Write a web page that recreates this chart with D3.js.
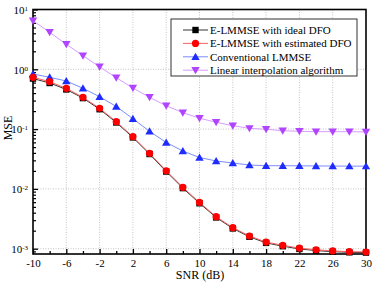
<!DOCTYPE html>
<html><head><meta charset="utf-8">
<script src="https://cdn.jsdelivr.net/npm/d3@7"></script>
<style>body{margin:0;background:#fff}svg{display:block}text{font-family:"Liberation Serif","Times New Roman",serif}</style>
</head><body>
<script>
const snr = [-10,-8,-6,-4,-2,0,2,4,6,8,10,12,14,16,18,20,22,24,26,28,30];
const idealDFO = [0.70,0.59,0.46,0.33,0.215,0.129,0.0725,0.0383,0.0195,0.0103,0.00575,0.00333,0.00218,0.00158,0.00125,0.00110,0.00099,0.00093,0.00089,0.00087,0.00086];
const estDFO = [0.735,0.62,0.48,0.34,0.223,0.133,0.0747,0.0394,0.0201,0.01063,0.00593,0.00343,0.00225,0.00163,0.00129,0.00114,0.00102,0.00096,0.000916,0.000891,0.000881];
const convLMMSE = [0.834,0.735,0.637,0.481,0.348,0.239,0.149,0.0919,0.0597,0.0430,0.0335,0.0293,0.0271,0.0251,0.0244,0.0244,0.0243,0.0242,0.0241,0.0240,0.0240];
const linInterp = [6.50,4.16,2.62,1.69,1.10,0.724,0.487,0.340,0.246,0.188,0.152,0.130,0.114,0.103,0.0993,0.094,0.0919,0.0906,0.0906,0.0906,0.0895];
const xTicks = [-10,-6,-2,2,6,10,14,18,22,26,30];
const yTicks = [1e-3,1e-2,1e-1,1,10];
const yTickLabels = ["-3","-2","-1","0","1"];
const seriesNames = ["E-LMMSE with ideal DFO","E-LMMSE with estimated DFO","Conventional LMMSE","Linear interpolation algorithm"];

const W=374,H=283;
const L=33,R=366,T=9.5,B=254;
const svg=d3.select("body").append("svg").attr("width",W).attr("height",H);
const x=d3.scaleLinear().domain([-10,30]).range([L,R]);
const y=d3.scaleLog().domain([0.000815,10]).range([B,T]);

// grid
const g=svg.append("g");
xTicks.slice(1,-1).forEach(t=>g.append("line").attr("x1",x(t)).attr("x2",x(t)).attr("y1",T).attr("y2",B)
  .attr("stroke","#c4c4c4").attr("stroke-width",1).attr("stroke-dasharray","1,1.5"));
yTicks.forEach(t=>g.append("line").attr("x1",L).attr("x2",R).attr("y1",y(t)).attr("y2",y(t))
  .attr("stroke","#c4c4c4").attr("stroke-width",1).attr("stroke-dasharray","1,1.5"));

// axes
const xAxis=d3.axisBottom(x).tickValues(xTicks).tickSizeInner(-5).tickSizeOuter(0).tickFormat(d=>d);
const xa=svg.append("g").attr("transform",`translate(0,${B})`).call(xAxis);
xa.select(".domain").remove();
xa.selectAll(".tick line").attr("stroke","#000").attr("stroke-width",1.3);
xa.selectAll(".tick text").attr("y",5).attr("font-size",11).attr("fill","#000").attr("font-family","Liberation Serif");
// minor x
const xMinor=d3.range(-8,30,4);
svg.append("g").attr("transform",`translate(0,${B})`).call(d3.axisBottom(x).tickValues(xMinor).tickSizeInner(-3).tickSizeOuter(0).tickFormat(""))
  .call(s=>{s.select(".domain").remove();s.selectAll("line").attr("stroke","#000").attr("stroke-width",1.3);});

const yAxis=d3.axisLeft(y).tickValues(yTicks).tickSizeInner(-5).tickSizeOuter(0).tickFormat("");
const ya=svg.append("g").attr("transform",`translate(${L},0)`).call(yAxis);
ya.select(".domain").remove();
ya.selectAll(".tick line").attr("stroke","#000").attr("stroke-width",1.3);
ya.selectAll(".tick").each(function(d,i){
  const t=d3.select(this).append("text").attr("x",-5).attr("dy","0.35em").attr("text-anchor","end").attr("fill","#000").attr("font-size",11).attr("font-family","Liberation Serif");
  t.append("tspan").text("10");
  t.append("tspan").attr("dy","-0.45em").attr("font-size",7).text(yTickLabels[i]);
});
const yMinor=[];
[-4,-3,-2,-1,0].forEach(e=>{for(let k=2;k<=9;k++){const v=k*Math.pow(10,e);if(v>=y.domain()[0]&&v<=10)yMinor.push(v);}});
svg.append("g").attr("transform",`translate(${L},0)`).call(d3.axisLeft(y).tickValues(yMinor).tickSizeInner(-3).tickSizeOuter(0).tickFormat(""))
  .call(s=>{s.select(".domain").remove();s.selectAll("line").attr("stroke","#000").attr("stroke-width",1.2);});

// frame
svg.append("rect").attr("x",L).attr("y",T).attr("width",R-L).attr("height",B-T).attr("fill","none").attr("stroke","#000").attr("stroke-width",1.6);

// series
const styles=[
  {data:idealDFO,line:"#333333",mk:"#000000",shape:"square"},
  {data:estDFO,line:"#ff6060",mk:"#ff0000",shape:"circle"},
  {data:convLMMSE,line:"#7a8cff",mk:"#1f2cff",shape:"tri"},
  {data:linInterp,line:"#d79cff",mk:"#b044ff",shape:"itri"}];
function marker(sel,shape,cx,cy,color){
  if(shape==="square") sel.append("rect").attr("x",cx-3.2).attr("y",cy-3.2).attr("width",6.4).attr("height",6.4).attr("fill",color);
  else if(shape==="circle") sel.append("circle").attr("cx",cx).attr("cy",cy).attr("r",3.6).attr("fill",color);
  else if(shape==="tri") sel.append("path").attr("d",`M${cx},${cy-4}L${cx+4.2},${cy+3.2}L${cx-4.2},${cy+3.2}Z`).attr("fill",color);
  else sel.append("path").attr("d",`M${cx},${cy+4}L${cx+4.2},${cy-3.2}L${cx-4.2},${cy-3.2}Z`).attr("fill",color);
}
const line=d3.line().x((d,i)=>x(snr[i])).y(d=>y(d));
const order=[3,2,0,1];
order.forEach(k=>{
  const s=styles[k];
  svg.append("path").attr("d",line(s.data)).attr("fill","none").attr("stroke",s.line).attr("stroke-width",1);
  const mg=svg.append("g");
  s.data.forEach((v,i)=>marker(mg,s.shape,x(snr[i]),y(v),s.mk));
});

// legend
const lg=svg.append("g");
lg.append("rect").attr("x",171).attr("y",19).attr("width",186).attr("height",57).attr("fill","#fff").attr("stroke","#333").attr("stroke-width",1);
seriesNames.forEach((n,i)=>{
  const yy=30+i*13.4, s=styles[i];
  lg.append("line").attr("x1",183).attr("x2",208).attr("y1",yy).attr("y2",yy).attr("stroke",s.line).attr("stroke-width",1);
  marker(lg,s.shape,195.5,yy,s.mk);
  lg.append("text").attr("x",210).attr("y",yy).attr("dy","0.35em").attr("font-size",11).attr("fill","#000").text(n);
});

// axis titles
svg.append("text").attr("x",200).attr("y",279).attr("text-anchor","middle").attr("font-size",12).attr("fill","#000").text("SNR (dB)");
svg.append("text").attr("transform","translate(12,128) rotate(-90)").attr("text-anchor","middle").attr("font-size",12).attr("fill","#000").text("MSE");
</script>
</body></html>
